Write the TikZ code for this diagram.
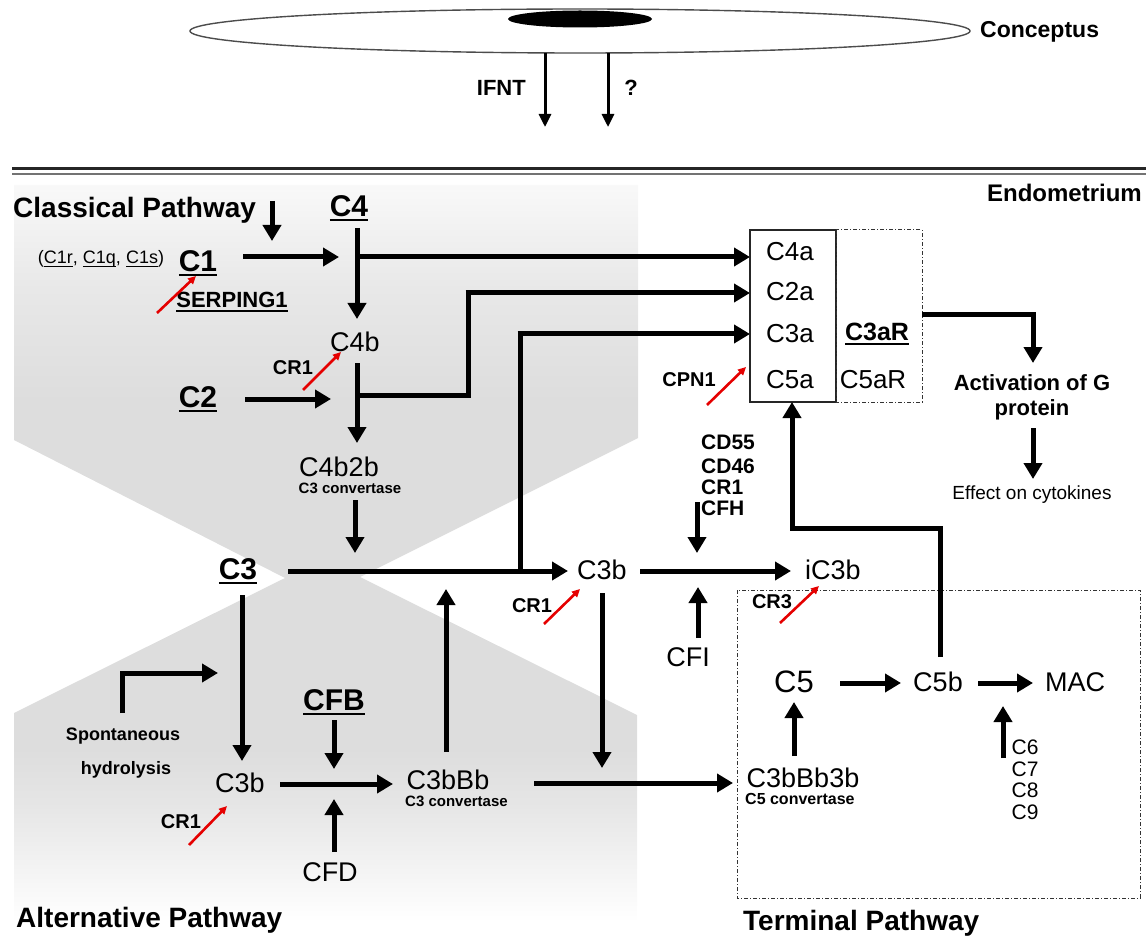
\documentclass[tikz,border=0pt]{standalone}
\usepackage{fontspec}
\setmainfont{Liberation Sans}
\usetikzlibrary{arrows.meta,calc}
\pgfdeclareverticalshading{bgshade}{100bp}{color(0bp)=(white); color(25bp)=(white); color(27bp)=(gray!5); color(33bp)=(gray!20); color(37bp)=(gray!27); color(60bp)=(gray!27); color(68bp)=(gray!18); color(75bp)=(gray!5); color(100bp)=(gray!5)}
\newcommand{\myul}[3]{\leavevmode\setbox0\hbox{#3}\rlap{\rule[-#1]{\wd0}{#2}}\box0}
\tikzset{
  reg/.style={inner sep=0pt, font=\fontsize{#1}{#1}\selectfont},
  bld/.style={inner sep=0pt, font=\fontsize{#1}{#1}\selectfont\bfseries},
  arr/.style={line width=5pt, -{Triangle[length=16pt,width=18pt]}},
  thinarr/.style={line width=3pt, -{Triangle[length=13pt,width=12pt]}},
  ln/.style={line width=5pt},
  redarr/.style={draw=red!90!black, line width=2.6pt, -{Triangle[length=8pt,width=7.5pt]}},
  dashbox/.style={draw=black!80, line width=1pt, dash pattern=on 4pt off 2pt on 1pt off 2pt},
}
\begin{document}
\begin{tikzpicture}[x=1pt,y=-1pt]
\useasboundingbox (0,0) rectangle (1146,941);
% background shading
\path[shading=bgshade] (14,185) -- (638,185) -- (638,438) -- (360,577) -- (637,715) -- (637,922) -- (14,922) -- (14,713) -- (285,578) -- (14,440) -- cycle;

% conceptus
\draw[black!70, line width=1.4pt] (580,31) ellipse [x radius=390, y radius=22];
\fill (580,19) ellipse [x radius=72, y radius=8.5];
\node[bld=23, anchor=west] (concep) at (980,32) {Conceptus};
\coordinate (ifa) at (545,53);
\coordinate (ifb) at (545,127);
\coordinate (qa) at (608,53);
\coordinate (qb) at (608,127);
\draw[thinarr] (ifa) -- (ifb);
\draw[thinarr] (qa) -- (qb);
\node[bld=22, anchor=east] (ifnt) at (526,88) {IFNT};
\node[bld=22] (qm) at (631,88) {?};

% double line
\draw[black!85, line width=2.6pt] (12,168.5) -- (1146,168.5);
\draw[black!55, line width=1.4pt] (12,174) -- (1146,174);
\node[bld=24, anchor=east] (endo) at (1142,193) {Endometrium};

% classical pathway
\node[bld=28, anchor=west] (classical) at (13,210) {Classical Pathway};
\draw[arr] (272,201) -- (272,241);
\node[bld=30] (c4) at (349,208) {\myul{4.5pt}{2pt}{C4}};
\node[reg=18] (c1sub) at (101,259) {(\myul{3.5pt}{1.2pt}{C1r}, \myul{3.5pt}{1.2pt}{C1q}, \myul{3.5pt}{1.2pt}{C1s})};
\node[bld=30] (c1) at (198,263) {\myul{4.5pt}{2pt}{C1}};
\draw[arr] (243,257) -- (339,257);
\draw[arr] (357,228) -- (357,319);
\draw[arr] (357,257) -- (750,257);
\node[bld=22] (serping) at (232,302) {\myul{4pt}{1.8pt}{SERPING1}};
\draw[redarr] (157,313) -- (196,276);
\node[reg=27] (c4b) at (355,342) {C4b};
\node[bld=20] (cr1a) at (293,368) {CR1};
\draw[redarr] (303,390) -- (341,352);
\node[bld=30] (c2) at (198,399) {\myul{4.5pt}{2pt}{C2}};
\draw[arr] (245,399) -- (331,399);
\draw[arr] (357,363) -- (357,443);
\draw[ln] (357,395) -- (468,395) -- (468,293);
\draw[arr] (465.5,293) -- (750,293);
\node[reg=27] (c4b2b) at (339,467) {C4b2b};
\node[bld=15] (conv1) at (350,488) {C3 convertase};
\draw[arr] (355,500) -- (355,553);

% C3 line
\node[bld=30] (c3) at (238,571) {\myul{4.5pt}{2pt}{C3}};
\draw[arr] (288,571) -- (568,571);
\draw[ln] (520,571) -- (520,334);
\draw[arr] (517.5,334) -- (750,334);
\node[reg=27] (c3b) at (602,570) {C3b};
\node[bld=20] (cr1b) at (532,606) {CR1};
\draw[redarr] (544,624) -- (580,589);
\draw[arr] (640,571) -- (791,571);
\node[reg=27] (ic3b) at (833,570) {iC3b};
\node[bld=21, anchor=west] (cd55) at (701,442) {CD55};
\node[bld=21, anchor=west] (cd46) at (701,466) {CD46};
\node[bld=21, anchor=west] (cr1c) at (701,487) {CR1};
\node[bld=21, anchor=west] (cfh) at (701,508) {CFH};
\draw[arr] (697,502) -- (697,553);
\node[reg=27] (cfi) at (688,657) {CFI};
\draw[arr] (698,638) -- (698,587);
\draw[arr] (602,593) -- (602,768);

% alternative pathway
\draw[arr] (242,595) -- (242,761);
\node[reg=27] (c3bl) at (240,783) {C3b};
\node[bld=18] (spont) at (123,736) {Spontaneous};
\node[bld=18] (hydro) at (126,770) {hydrolysis};
\draw[arr] (122,713) -- (122,673) -- (218,673);
\node[bld=20] (cr1d) at (181,822) {CR1};
\draw[redarr] (189,845) -- (227,806);
\draw[arr] (280,784) -- (393,784);
\node[bld=30] (cfb) at (334,702) {\myul{4.5pt}{2pt}{CFB}};
\draw[arr] (334,720) -- (334,769);
\node[reg=27] (cfd) at (330,872) {CFD};
\draw[arr] (334,852) -- (334,799);
\node[reg=27] (c3bbb) at (448,780) {C3bBb};
\node[bld=15, anchor=west] (conv2) at (405,801) {C3 convertase};
\draw[arr] (446,752) -- (446,589);
\draw[arr] (534,783) -- (733,783);
\node[bld=28, anchor=west] (alt) at (16,920) {Alternative Pathway};

% box of anaphylatoxins
\draw[black!85, line width=1.2pt] (750,230) rectangle (836,402);
\draw[dashbox] (836,230) rectangle (922,402);
\node[reg=26] (c4a) at (790,252) {C4a};
\node[reg=26] (c2a) at (790,292) {C2a};
\node[reg=26] (c3a) at (790,334) {C3a};
\node[reg=26] (c5a) at (790,380) {C5a};
\node[bld=25] (c3ar) at (877,334) {\myul{4pt}{1.8pt}{C3aR}};
\node[reg=26] (c5ar) at (873,380) {C5aR};
\node[bld=20] (cpn1) at (689,380) {CPN1};
\draw[redarr] (707,405) -- (746,367);
\draw[ln] (922,315) -- (1033,315);
\draw[arr] (1033,312.5) -- (1033,363);
\node[bld=22] (actg) at (1032,383) {Activation of G};
\node[bld=22] (prot) at (1032,410) {protein};
\draw[arr] (1033,428) -- (1033,479);
\node[reg=19] (effect) at (1032,495) {Effect on cytokines};

% terminal pathway
\draw[dashbox] (737,590) rectangle (1140,898);
\node[bld=20] (cr3) at (772,602) {CR3};
\draw[redarr] (780,623) -- (819,586);
\node[reg=31] (c5) at (794,682) {C5};
\draw[arr] (840,683) -- (901,683);
\node[reg=27] (c5b) at (938,682) {C5b};
\draw[arr] (978,683) -- (1033,683);
\node[reg=27] (mac) at (1075,682) {MAC};
\node[reg=27] (c3bbb3b) at (803,778) {C3bBb3b};
\node[bld=16, anchor=west] (conv3) at (745,799) {C5 convertase};
\draw[arr] (794,756) -- (794,702);
\node[inner sep=0pt, align=left, font=\fontsize{21}{21.5}\selectfont] (c6to9) at (1025,780) {C6\\C7\\C8\\C9};
\draw[arr] (1003,758) -- (1003,706);
\draw[ln] (940,657) -- (940,528) -- (792,528);
\draw[arr] (792,530.5) -- (792,402);
\node[bld=28, anchor=west] (term) at (743,923) {Terminal Pathway};
\end{tikzpicture}
\end{document}
